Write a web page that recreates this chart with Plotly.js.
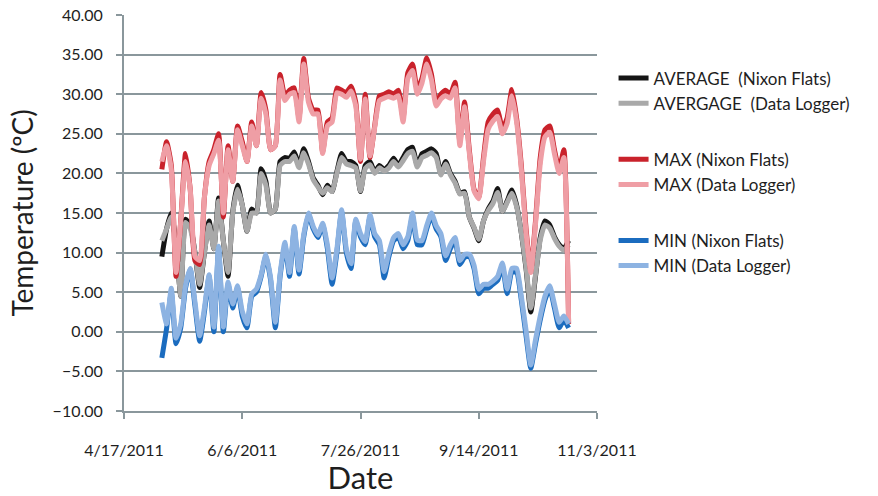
<!DOCTYPE html>
<html>
<head>
<meta charset="utf-8">
<script src="https://cdn.plot.ly/plotly-3.0.1.min.js"></script>
<style>
  html, body { margin: 0; padding: 0; background: #ffffff; }
  #chart { width: 878px; height: 496px; }
</style>
</head>
<body>
<div id="chart"></div>
<script>
// Daily temperature readings, sampled every second day from 3 May to 23 Oct 2011
const startDate = '2011-05-03';
const stepDays = 2;

const avgNixon = [9.5, 13, 15, 11, 4.5, 14.2, 13.5, 10, 5.6, 10,
  14, 10.5, 16.9, 11.5, 7, 15.2, 18.5, 16, 12.7, 15.5,
  15, 20.6, 19, 15, 15.5, 21.5, 22, 21.9, 22.7, 21,
  23.1, 21.5, 19.4, 18.5, 17.3, 18.5, 17.7, 20.2, 22.5, 21.5,
  21.5, 21, 17.7, 21, 21.5, 20.2, 21, 20.5, 21, 21.9,
  21, 22, 23, 23.3, 21, 22.5, 22.8, 23.1, 22.5, 20,
  21.5, 20, 19, 17.5, 17.7, 14.5, 13.1, 11.5, 14, 15.5,
  16.5, 18.1, 15.2, 16.5, 17.9, 16, 12.5, 8, 2.5, 7,
  11.9, 14, 13.5, 12, 11, 10.5, 11.5];

const avgLogger = [11.5, 13, 14.5, 11, 4.5, 13.8, 13, 10, 6, 10,
  13.5, 10.5, 16.5, 11.5, 7.5, 15, 18, 16, 12.7, 15,
  15, 20, 18.5, 15, 15.5, 21, 21.5, 21.5, 22.2, 20.7,
  22.6, 21.2, 19.2, 18.3, 17.5, 18.2, 17.7, 20, 22, 21.2,
  21, 20.7, 17.8, 20.6, 21.1, 20, 20.7, 20.3, 20.7, 21.5,
  20.8, 21.6, 22.5, 22.8, 20.8, 22, 22.3, 22.6, 22, 19.8,
  21.2, 19.8, 18.8, 17.4, 17.5, 14.5, 13.2, 11.7, 14, 15.3,
  16.2, 17.6, 15.2, 16.3, 17.5, 15.8, 12.5, 8.2, 3, 7.2,
  11.6, 13.5, 13.1, 11.8, 10.8, 10.3, 11];

const maxNixon = [20.5, 24, 21, 7, 14, 22.5, 18, 9, 8.5, 17,
  21.5, 23, 25, 14.5, 23.5, 19, 26, 24, 21.5, 26.5,
  23.5, 30.2, 28, 23, 23.5, 32.5, 29.8, 30.5, 30.8, 27,
  34.5, 29.5, 28, 28, 22.7, 26.5, 27, 30.8, 30.5, 30.2,
  31, 29, 21.5, 30, 22, 26, 29.8, 30, 30.3, 30,
  30.5, 27, 32.7, 33.8, 30.6, 32, 34.6, 32.5, 29, 30,
  30.5, 30, 31.5, 24, 29, 23, 18, 17, 22, 26.5,
  27.5, 28, 25.6, 27, 30.6, 27, 21, 13, 7.7, 14,
  22, 25.5, 26, 23, 20.5, 23, 1];

const maxLogger = [21.5, 23.5, 20.5, 7.5, 14, 21.5, 18, 9.5, 9, 17,
  21, 22.5, 24.2, 15, 23, 19, 25.5, 23.5, 21.5, 26,
  23.5, 29.5, 27.5, 23, 23.5, 31.8, 29.2, 30, 30.2, 26.5,
  33.8, 29, 27.5, 27.5, 22.5, 26, 26.5, 30.2, 30, 29.6,
  30.4, 28.5, 21.8, 29.4, 22.2, 25.8, 29.2, 29.5, 29.7, 29.5,
  29.8, 26.5, 32, 33, 30, 31.4, 33.8, 31.8, 28.5, 29.4,
  29.8, 29.5, 30.8, 23.5, 28.4, 22.6, 17.8, 16.8, 21.5, 25.6,
  26.6, 27.2, 25, 26.3, 29.8, 26.5, 20.5, 12.5, 7.5, 13.6,
  21.2, 24.6, 25.2, 22.5, 20, 22, 1.2];

const minNixon = [-3.3, 0.4, 5, -1.5, 0.5, 5.5, 7.9, 3.3, -1.2, 2.5,
  7, 0, 10.5, 0, 6, 3, 5.6, 2, 0.5, 4.5,
  5, 7, 9.6, 6.5, 0.5, 7, 11, 7, 13, 7.3,
  12, 14.8, 13, 11.9, 13.5, 10.5, 6, 10, 15.2, 10,
  8, 14, 12, 11, 14.5, 12, 11, 6.8, 9.5, 11.5,
  12, 10.5, 11.5, 14.6, 11, 11, 13, 14.6, 13, 12,
  9, 10.5, 11.5, 8.5, 9.4, 9.5, 8, 4.8, 5.5, 5.5,
  6, 6.5, 8.3, 4.8, 7.5, 7.5, 4, -0.5, -4.6, -1.5,
  1.5, 4, 5.5, 3, 0.5, 1.5, 0.5];

const minLogger = [3.7, 1, 5.5, -0.8, 1, 5.8, 8, 3.8, -0.5, 3,
  7.2, 0.6, 10.8, 0.6, 6.3, 3.5, 5.8, 2.6, 1, 4.8,
  5.4, 7.2, 9.8, 6.8, 1.2, 7.3, 11.3, 7.5, 13.3, 7.8,
  12.3, 15, 13.3, 12.2, 13.7, 11, 6.8, 10.4, 15.4, 10.5,
  8.6, 14.2, 12.4, 11.4, 14.8, 12.4, 11.5, 7.6, 10, 11.9,
  12.4, 11, 12, 15, 11.6, 11.5, 13.4, 15, 13.4, 12.4,
  9.6, 11, 11.9, 9, 9.8, 9.8, 8.4, 5.4, 6, 6,
  6.4, 7, 8.7, 5.4, 8, 8, 4.5, 0.2, -4.2, -1,
  2, 4.5, 5.8, 3.5, 1.2, 2, 1];

const tickDates = ['2011-04-17', '2011-06-06', '2011-07-26', '2011-09-14', '2011-11-03'];
const tickLabels = ['4/17/2011', '6/6/2011', '7/26/2011', '9/14/2011', '11/3/2011'];

// Build the date axis values: one entry per reading
function buildDates(start, step, n) {
  const out = [];
  const base = new Date(start + 'T00:00:00Z');
  for (let i = 0; i < n; i++) {
    const d = new Date(base.getTime() + i * step * 86400000);
    out.push(d.toISOString().slice(0, 10));
  }
  return out;
}
const dates = buildDates(startDate, stepDays, avgNixon.length);

function series(name, y, color, group) {
  return {
    type: 'scatter', mode: 'lines', name: name, x: dates, y: y,
    legendgroup: group,
    line: { color: color, width: 5, shape: 'spline', smoothing: 0.5 },
    hoverinfo: 'skip'
  };
}

const traces = [
  series('AVERAGE  (Nixon Flats)', avgNixon, '#151515', 'avg'),
  series('AVERGAGE  (Data Logger)', avgLogger, '#a9a9a9', 'avg'),
  series('MAX (Nixon Flats)', maxNixon, '#c9222b', 'max'),
  series('MAX (Data Logger)', maxLogger, '#ef9ea5', 'max'),
  series('MIN (Nixon Flats)', minNixon, '#1b6cbf', 'min'),
  series('MIN (Data Logger)', minLogger, '#8db3e2', 'min')
];

const axisGrey = '#8a979c';
const layout = {
  width: 878, height: 496,
  margin: { l: 124, r: 281, t: 15, b: 85, autoexpand: false },
  paper_bgcolor: '#ffffff', plot_bgcolor: '#ffffff',
  font: { family: 'Lato, "Open Sans", sans-serif', color: '#1e1e1e' },
  showlegend: true,
  legend: {
    x: 1.035, xanchor: 'left', y: 0.885, yanchor: 'top',
    font: { size: 17, color: '#1e1e1e' },
    traceorder: 'grouped', tracegroupgap: 31,
    bgcolor: 'rgba(0,0,0,0)', borderwidth: 0
  },
  xaxis: {
    type: 'date',
    range: ['2011-04-17', '2011-11-03'],
    tickmode: 'array', tickvals: tickDates, ticktext: tickLabels,
    ticks: 'outside', ticklen: 6, tickwidth: 2, tickcolor: axisGrey,
    ticklabelstandoff: 18,
    showgrid: false, zeroline: false,
    showline: true, linecolor: axisGrey, linewidth: 2,
    tickfont: { size: 16, color: '#1e1e1e' },
    title: { text: 'Date', font: { size: 31, color: '#1e1e1e' }, standoff: 17 }
  },
  yaxis: {
    range: [-10, 40], tick0: -10, dtick: 5,
    tickformat: '.2f',
    ticks: 'outside', ticklen: 6, tickwidth: 2, tickcolor: axisGrey,
    ticklabelstandoff: 10,
    showgrid: true, gridcolor: axisGrey, gridwidth: 2,
    zeroline: false,
    showline: true, linecolor: axisGrey, linewidth: 2,
    tickfont: { size: 16, color: '#1e1e1e' },
    title: { text: 'Temperature (ºC)', font: { size: 28, color: '#1e1e1e' }, standoff: 11 }
  }
};

Plotly.newPlot('chart', traces, layout, { staticPlot: true, displayModeBar: false });
</script>
</body>
</html>
